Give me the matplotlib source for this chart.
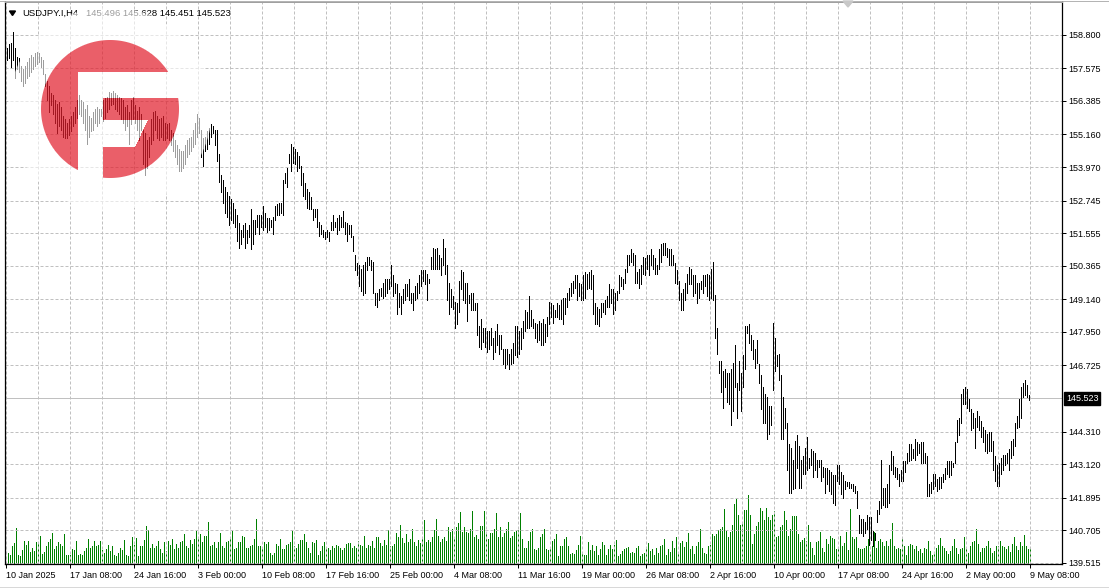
import numpy as np
import matplotlib
matplotlib.use('Agg')
import matplotlib.pyplot as plt
from matplotlib.patches import Polygon
from matplotlib.lines import Line2D
from matplotlib.transforms import blended_transform_factory

plt.rcParams['font.family'] = ['Liberation Sans', 'DejaVu Sans']

W, H, DPI = 1109, 588, 100

# ---- data ----
symbol = 'USDJPY.I,H4'
last_ohlc = '145.496 145.628 145.451 145.523'
last_price = 145.523

price_ticks = [158.800, 157.575, 156.385, 155.160, 153.970, 152.745, 151.555, 150.365,
               149.140, 147.950, 146.725, 144.310, 143.120, 141.895, 140.705, 139.515]

date_labels = ['10 Jan 2025', '17 Jan 08:00', '24 Jan 16:00', '3 Feb 00:00', '10 Feb 08:00',
               '17 Feb 16:00', '25 Feb 00:00', '4 Mar 08:00', '11 Mar 16:00', '19 Mar 00:00',
               '26 Mar 08:00', '2 Apr 16:00', '10 Apr 00:00', '17 Apr 08:00', '24 Apr 16:00',
               '2 May 00:00', '9 May 08:00']

# H4 bar highs, 10 Jan -> 9 May 2025
highs = [
    158.32, 158.45, 158.51, 158.89, 158.32, 158.00, 157.94, 157.68, 157.56, 157.68, 157.81, 157.94, 158.06, 158.00, 158.13, 158.19,
    158.13, 158.00, 157.87, 157.37, 157.11, 156.92, 156.67, 156.61, 156.42, 156.29, 156.35, 156.16, 155.84, 155.72, 155.59, 155.72,
    155.84, 155.97, 156.16, 156.42, 156.61, 156.42, 156.35, 156.10, 156.22, 155.84, 155.78, 155.97, 156.10, 156.16, 156.10, 156.10,
    156.42, 156.48, 156.54, 156.73, 156.67, 156.76, 156.67, 156.61, 156.54, 156.48, 156.42, 156.16, 156.22, 155.97, 156.42, 156.54,
    156.22, 156.03, 156.16, 155.91, 155.34, 155.21, 154.95, 155.08, 155.72, 155.97, 156.03, 155.84, 155.72, 155.78, 155.84, 155.59,
    155.53, 155.59, 155.34, 155.21, 154.95, 154.76, 154.64, 154.57, 154.57, 154.76, 154.95, 155.02, 155.08, 155.34, 155.59, 155.91,
    155.78, 155.34, 155.02, 155.08, 155.27, 155.40, 155.53, 155.46, 155.34, 155.34, 154.45, 153.69, 153.50, 153.24, 153.05, 152.92,
    152.80, 152.67, 152.42, 152.23, 151.91, 151.66, 151.85, 151.91, 151.66, 151.85, 152.42, 152.04, 152.04, 152.23, 152.23, 152.23,
    152.54, 152.29, 152.10, 152.10, 152.04, 152.16, 152.54, 152.61, 152.67, 152.67, 153.50, 153.75, 153.94, 154.45, 154.83, 154.70,
    154.64, 154.51, 154.38, 154.00, 153.75, 153.37, 153.18, 153.05, 152.86, 152.42, 152.42, 152.42, 151.97, 151.85, 151.66, 151.59,
    151.66, 151.59, 151.97, 152.23, 151.97, 152.10, 152.23, 152.16, 152.35, 151.97, 151.91, 151.85, 151.85, 151.47, 150.77, 150.45,
    150.39, 150.26, 150.39, 150.51, 150.70, 150.70, 150.58, 150.51, 149.37, 149.37, 149.50, 149.56, 149.75, 149.88, 149.88, 149.88,
    150.39, 150.01, 149.75, 149.69, 149.37, 149.25, 149.50, 149.69, 149.69, 149.88, 149.37, 149.37, 149.63, 149.75, 150.01, 150.20,
    150.20, 150.20, 150.07, 149.88, 150.70, 151.02, 150.96, 151.02, 150.77, 150.64, 151.34, 151.02, 150.39, 149.75, 149.50, 149.25,
    149.05, 148.99, 149.82, 150.20, 150.13, 149.75, 149.75, 149.31, 149.37, 149.37, 148.99, 148.99, 148.17, 148.42, 148.10, 148.10,
    147.98, 147.98, 148.10, 147.72, 147.98, 148.23, 147.85, 147.85, 147.34, 147.34, 147.34, 147.15, 147.34, 147.53, 148.17, 148.17,
    147.98, 148.10, 148.36, 148.74, 148.67, 149.25, 148.74, 148.42, 148.29, 148.23, 148.36, 148.29, 148.42, 148.23, 148.48, 149.05,
    148.99, 148.93, 148.74, 148.99, 148.93, 149.12, 149.18, 149.18, 149.37, 149.56, 149.75, 149.82, 150.01, 150.01, 149.75, 149.69,
    150.01, 150.13, 150.07, 150.13, 150.20, 150.01, 148.99, 148.86, 148.80, 148.99, 148.99, 149.12, 149.25, 149.69, 149.50, 149.50,
    149.37, 149.44, 150.01, 149.94, 149.88, 150.26, 150.77, 150.77, 150.96, 150.83, 150.77, 150.13, 150.26, 150.39, 150.70, 150.64,
    150.77, 150.77, 150.96, 150.77, 150.64, 150.39, 150.96, 151.15, 151.21, 151.21, 151.02, 150.96, 150.96, 150.77, 150.45, 150.20,
    149.82, 149.37, 149.50, 149.75, 150.07, 150.32, 150.26, 150.01, 150.01, 149.75, 149.75, 149.82, 150.01, 150.01, 150.07, 150.01,
    150.26, 150.51, 149.31, 148.10, 146.90, 146.90, 146.52, 146.58, 146.45, 146.45, 146.58, 146.83, 147.47, 146.07, 146.90, 146.45,
    147.09, 148.17, 148.17, 148.23, 147.85, 147.66, 147.34, 147.66, 146.77, 146.39, 145.95, 145.69, 145.56, 145.25, 145.25, 148.29,
    147.72, 147.09, 147.15, 146.39, 145.56, 145.18, 144.61, 143.85, 143.72, 143.28, 143.98, 144.17, 143.79, 143.28, 143.41, 143.72,
    144.10, 143.34, 143.66, 143.60, 143.53, 143.28, 143.28, 143.28, 143.03, 142.96, 142.96, 142.90, 142.84, 142.71, 142.71, 143.09,
    143.09, 142.84, 142.71, 142.52, 142.46, 142.46, 142.39, 142.39, 142.33, 142.14, 141.25, 141.12, 141.12, 141.00, 141.25, 141.19,
    141.19, 140.68, 140.62, 141.44, 141.76, 143.28, 142.26, 142.26, 142.39, 143.09, 143.60, 143.41, 143.03, 142.96, 142.77, 142.90,
    143.22, 143.22, 143.53, 143.85, 143.85, 143.66, 144.04, 143.91, 143.85, 143.91, 143.91, 143.53, 143.41, 142.39, 142.46, 142.77,
    142.77, 142.58, 142.65, 142.65, 142.77, 142.96, 143.22, 143.22, 143.22, 143.15, 143.91, 144.74, 144.80, 145.69, 145.88, 145.95,
    145.88, 145.50, 145.12, 144.99, 144.80, 145.06, 144.87, 144.68, 144.48, 144.36, 144.23, 144.29, 144.29, 143.98, 143.41, 143.09,
    143.15, 143.34, 143.47, 143.47, 143.53, 143.66, 143.98, 144.04, 144.61, 144.87, 145.50, 145.95, 146.07, 146.20, 146.01, 145.63,
]

lows = [
    157.87, 157.94, 157.62, 157.87, 157.24, 157.56, 157.43, 157.11, 156.92, 157.05, 157.24, 157.30, 157.43, 157.56, 157.68, 157.75,
    157.81, 157.62, 157.37, 156.92, 156.42, 155.97, 156.22, 155.91, 155.59, 155.21, 155.46, 155.34, 155.08, 155.02, 155.02, 155.15,
    155.27, 155.46, 155.59, 155.78, 155.91, 155.84, 155.59, 155.34, 154.83, 155.08, 155.27, 155.34, 155.59, 155.46, 155.59, 155.84,
    155.65, 155.78, 155.97, 156.10, 156.22, 156.29, 156.10, 156.03, 155.91, 155.72, 155.59, 155.34, 155.46, 154.83, 155.53, 155.72,
    155.59, 155.34, 154.95, 155.34, 154.07, 153.69, 153.94, 154.32, 154.83, 154.95, 155.34, 155.02, 154.95, 155.08, 154.95, 154.95,
    155.02, 154.95, 154.76, 154.57, 154.32, 154.07, 153.81, 153.81, 153.94, 154.07, 154.32, 154.45, 154.57, 154.70, 154.83, 155.08,
    155.21, 154.32, 154.00, 154.57, 154.64, 154.83, 155.08, 155.21, 154.76, 154.19, 153.43, 153.05, 152.67, 152.29, 152.16, 151.85,
    152.04, 151.91, 151.78, 151.28, 151.02, 151.15, 151.40, 151.02, 151.21, 151.40, 150.96, 151.15, 151.53, 151.78, 151.53, 151.78,
    151.66, 151.78, 151.59, 151.66, 151.78, 151.53, 152.04, 152.23, 152.23, 152.29, 152.23, 153.37, 153.24, 154.13, 153.81, 154.13,
    154.07, 153.81, 153.94, 153.30, 152.92, 152.80, 152.48, 152.42, 152.42, 152.04, 152.16, 151.78, 151.47, 151.53, 151.40, 151.34,
    151.40, 151.28, 151.66, 151.66, 151.78, 151.53, 151.66, 151.78, 151.78, 151.53, 151.28, 151.53, 151.40, 150.89, 150.20, 150.01,
    149.63, 149.44, 149.31, 149.37, 150.20, 150.39, 150.20, 149.37, 148.93, 148.86, 149.12, 149.25, 149.18, 149.25, 149.37, 149.50,
    149.63, 149.25, 149.37, 148.61, 148.86, 148.61, 148.99, 149.12, 149.25, 149.12, 148.99, 148.74, 149.12, 149.18, 149.37, 149.63,
    149.82, 149.69, 149.12, 149.75, 150.26, 150.26, 150.26, 150.26, 150.26, 150.01, 150.39, 150.07, 149.12, 148.61, 148.86, 148.80,
    148.10, 148.23, 148.67, 149.50, 149.12, 148.99, 148.36, 148.99, 148.74, 148.74, 148.74, 147.85, 147.40, 147.34, 147.59, 147.40,
    147.21, 147.34, 147.47, 146.96, 147.21, 147.47, 147.15, 147.34, 146.77, 146.64, 146.77, 146.58, 146.77, 146.83, 147.09, 147.03,
    147.15, 147.34, 147.72, 147.98, 148.10, 148.10, 148.17, 148.10, 147.72, 147.59, 147.66, 147.47, 147.47, 147.59, 147.79, 148.23,
    148.48, 148.29, 148.48, 148.48, 148.42, 148.42, 148.23, 148.61, 148.86, 149.12, 149.25, 149.37, 149.56, 149.12, 149.25, 149.12,
    149.12, 149.18, 149.50, 149.56, 149.50, 148.61, 148.23, 148.23, 148.17, 148.48, 148.67, 148.61, 148.86, 148.86, 148.99, 148.61,
    148.74, 149.12, 149.37, 149.63, 149.50, 149.75, 150.13, 150.39, 150.51, 150.39, 149.75, 149.75, 149.56, 149.69, 150.07, 150.01,
    150.26, 150.01, 150.39, 150.26, 150.07, 150.07, 150.26, 150.51, 150.77, 150.77, 150.70, 150.39, 150.39, 150.39, 149.75, 149.69,
    149.12, 148.74, 148.74, 149.12, 149.37, 149.69, 149.69, 149.25, 149.37, 148.99, 149.18, 149.50, 149.37, 149.63, 149.25, 149.12,
    149.18, 149.12, 147.72, 147.15, 146.45, 145.76, 145.18, 145.95, 145.37, 145.31, 144.55, 145.06, 145.95, 144.80, 145.82, 145.06,
    145.95, 146.58, 147.91, 147.53, 147.28, 146.96, 146.64, 146.83, 146.07, 145.12, 144.61, 144.61, 144.04, 144.23, 144.55, 145.82,
    146.52, 146.71, 146.20, 144.04, 144.04, 144.42, 142.90, 142.07, 142.07, 142.20, 142.26, 142.96, 142.26, 142.26, 142.77, 142.77,
    142.90, 142.96, 143.09, 142.65, 142.90, 142.65, 143.03, 142.52, 142.65, 142.07, 142.39, 142.14, 142.01, 141.69, 141.63, 142.52,
    142.39, 142.01, 141.89, 142.20, 142.33, 142.26, 142.26, 142.14, 142.07, 141.50, 140.62, 140.62, 140.49, 140.62, 140.74, 140.17,
    140.36, 140.11, 140.36, 141.00, 141.31, 141.50, 141.63, 141.57, 141.57, 141.69, 142.90, 142.77, 142.65, 142.58, 142.33, 142.52,
    142.52, 142.84, 143.15, 143.22, 143.28, 143.34, 143.28, 143.47, 143.53, 143.15, 143.15, 143.15, 141.95, 141.95, 142.07, 142.20,
    142.33, 142.14, 142.20, 142.26, 142.46, 142.58, 142.77, 142.65, 142.71, 143.03, 143.15, 143.91, 144.17, 144.61, 145.31, 145.31,
    145.18, 145.06, 144.36, 144.42, 143.72, 144.48, 144.36, 144.10, 143.91, 143.60, 143.53, 143.60, 143.60, 142.90, 142.52, 142.33,
    142.33, 142.77, 142.90, 143.09, 143.15, 142.90, 143.34, 143.47, 143.79, 144.42, 144.48, 144.80, 145.56, 145.63, 145.56, 145.45,
]

# tick volumes
volumes = [
    3200, 2700, 5200, 6000, 10500, 2700, 2200, 4000, 6500, 5500, 6500, 3400, 4700, 3700, 6200, 6000,
    8200, 3000, 3400, 5200, 6400, 7200, 9000, 4400, 5200, 6200, 5700, 5200, 8500, 2700, 2700, 2700,
    4200, 4000, 6700, 2700, 3000, 2700, 3700, 4700, 7200, 4700, 5200, 6500, 5200, 5500, 6500, 4000,
    3200, 4200, 5500, 3700, 5200, 2700, 2400, 3200, 4700, 3900, 7000, 2700, 2200, 5200, 7800, 5500,
    7500, 2400, 5200, 5200, 7000, 11000, 9700, 4700, 5700, 4700, 5200, 6700, 4200, 3200, 6200, 3700,
    6700, 5500, 7200, 4200, 5700, 4700, 6200, 6700, 8500, 5200, 4700, 7000, 5700, 7200, 9500, 7200,
    8700, 6400, 8000, 8200, 12200, 5200, 5400, 6400, 4700, 6400, 8900, 5200, 4700, 6200, 6700, 7700,
    9700, 4200, 4700, 6200, 6400, 8200, 7700, 4700, 4700, 5200, 5400, 7200, 13000, 5200, 5200, 4700,
    6200, 5700, 6200, 3200, 2700, 3200, 5700, 5200, 7200, 4200, 4200, 5400, 5700, 6400, 9700, 5200,
    4700, 5700, 7000, 7000, 8700, 6200, 4700, 3200, 6200, 6000, 6900, 2700, 3700, 5200, 6400, 4400,
    4700, 4000, 5200, 4700, 5400, 5200, 4500, 4000, 4700, 5700, 6000, 6000, 4700, 5200, 4700, 6500,
    5500, 5200, 8200, 4700, 5500, 5200, 6500, 4700, 7900, 7700, 6000, 5200, 7000, 5500, 9700, 5200,
    5200, 5700, 9000, 7700, 11200, 7400, 6000, 8500, 6200, 7200, 10000, 6400, 5200, 7000, 6000, 7400,
    12700, 6200, 7000, 6400, 7700, 9700, 13000, 8200, 6200, 7200, 7700, 6700, 10700, 9200, 10200, 7700,
    10700, 11900, 15000, 9200, 10700, 9200, 9000, 10200, 15200, 7700, 8400, 7200, 10900, 10900, 15200, 8700,
    7200, 9000, 9000, 10000, 14700, 7700, 10700, 7700, 9000, 10200, 12200, 7400, 8200, 9200, 9400, 9700,
    14700, 7200, 4700, 4500, 6500, 9200, 10000, 4200, 3900, 4700, 7700, 8500, 10200, 4400, 4000, 4200,
    6500, 7200, 8500, 2400, 5200, 5200, 7200, 7700, 5200, 3000, 3200, 3000, 4000, 5500, 8000, 3000,
    2700, 2700, 6200, 4000, 5500, 3700, 5200, 2500, 4200, 6200, 5500, 2700, 4200, 5500, 4400, 5500,
    7000, 2200, 3000, 3700, 4400, 4700, 5000, 3200, 3500, 3200, 4700, 5200, 2400, 3000, 3200, 4500,
    6000, 3700, 4200, 2700, 4700, 3200, 5200, 5500, 7200, 2700, 4200, 3500, 6500, 4700, 7700, 3200,
    6000, 6700, 5000, 6200, 9000, 4200, 5200, 3000, 5200, 6200, 10000, 4700, 3200, 3000, 5200, 5500,
    8700, 8200, 8700, 9700, 10000, 10700, 15700, 9400, 7700, 9200, 11200, 17400, 18700, 14000, 11200, 11700,
    15500, 15500, 20000, 14000, 5700, 8500, 10900, 12200, 16000, 15200, 12700, 16000, 13500, 12700, 14200, 15200,
    7700, 8200, 10700, 11200, 15200, 12700, 8200, 10000, 13700, 13700, 13700, 8700, 6200, 7000, 7400, 6700,
    11200, 6200, 4700, 2700, 6200, 6700, 9200, 4700, 3500, 7200, 5700, 8200, 7400, 7200, 4200, 4700,
    8200, 5200, 6000, 9200, 4000, 15700, 7700, 7200, 7700, 4700, 4200, 4200, 4700, 5200, 7200, 3200,
    5200, 9200, 4700, 6700, 7200, 6200, 5200, 6700, 5200, 7200, 11700, 5200, 4200, 4700, 4200, 7200,
    5200, 2700, 5200, 5700, 5500, 4200, 5200, 3700, 4200, 3200, 4700, 4200, 6700, 3700, 2700, 3400,
    4700, 5500, 7400, 5200, 4700, 3700, 3000, 3700, 5200, 7200, 4700, 3000, 4200, 4700, 7700, 4700,
    3200, 5200, 6200, 6700, 10200, 5700, 3400, 4700, 4700, 5200, 6500, 4700, 3200, 3700, 5200, 5200,
    6700, 5200, 5000, 4200, 5200, 3400, 5700, 7700, 5200, 4000, 6200, 5200, 8400, 5200, 4200, 4900,
]

n = min(len(highs), len(lows), len(volumes))
bars = np.arange(n)
hi = np.array(highs[:n])
lo = np.array(lows[:n])
vol = np.array(volumes[:n])


def px_rect(x0, y0, x1, y1):
    # pixel box (y measured from the top) -> figure fraction rect
    return [x0 / W, 1 - y1 / H, (x1 - x0) / W, (y1 - y0) / H]


fig = plt.figure(figsize=(W / DPI, H / DPI), dpi=DPI, facecolor='white')
pos = px_rect(5, 2, 1062, 564)

xmin, xmax = -1.25, 527.25
ymin, ymax = 139.47, 160.0

# volume panel sits behind the price bars
vax = fig.add_axes(pos, zorder=1)
vax.axis('off')
vax.vlines(bars, 0, vol, colors='#008000', linewidth=0.72, antialiased=False)
vax.set_xlim(xmin, xmax)
vax.set_ylim(0, 562 * 288)

ax = fig.add_axes(pos, zorder=2)
ax.patch.set_visible(False)
ax.set_xlim(xmin, xmax)
ax.set_ylim(ymin, ymax)

ax.vlines(bars, lo, hi, colors='black', linewidth=0.72, antialiased=False, zorder=3)
ax.axhline(last_price, color='#c0c0c0', linewidth=0.72, zorder=2)

# axes / ticks
xt = -0.5 + 32 * np.arange(len(date_labels))
ax.set_xticks(xt)
ax.set_xticklabels(date_labels)
ax.set_xticks(-0.5 + 16 + 32 * np.arange(len(date_labels)), minor=True)
for t in ax.get_xticklabels():
    t.set_ha('left')

ax.yaxis.tick_right()
ax.set_yticks(price_ticks)
ax.set_yticklabels([f'{v:.3f}' for v in price_ticks])

ax.tick_params(axis='x', which='major', direction='out', length=3, width=0.72,
               pad=2, labelsize=6.5, colors='black')
ax.tick_params(axis='x', which='minor', length=0)
ax.tick_params(axis='y', which='major', direction='out', length=3, width=0.72,
               pad=1.5, labelsize=6.5, colors='black')

ax.grid(True, axis='x', which='both', color='#c0c0c0', linestyle=(0, (3, 2)), linewidth=0.72)
ax.grid(True, axis='y', which='major', color='#c0c0c0', linestyle=(0, (3, 2)), linewidth=0.72)
ax.set_axisbelow(True)

for side in ['left', 'right', 'bottom']:
    ax.spines[side].set_color('black')
    ax.spines[side].set_linewidth(0.9)
ax.spines['top'].set_color('#a0a0a0')
ax.spines['top'].set_linewidth(0.72)

# last price tag on the price scale
tr = blended_transform_factory(ax.transAxes, ax.transData)
ax.text(1 + 4 / 1057, last_price, f'{last_price:.3f}', transform=tr, ha='left', va='center',
        color='white', fontsize=6.5, clip_on=False,
        bbox=dict(boxstyle='square,pad=0.2', fc='black', ec='black'))

# header
fig.add_artist(Polygon([[9.5 / W, 1 - 11 / H], [15.5 / W, 1 - 11 / H], [12.5 / W, 1 - 15.5 / H]],
                       closed=True, transform=fig.transFigure, color='black', zorder=3))
fig.text(22 / W, 1 - 13.5 / H, symbol, fontsize=6.8, ha='left', va='center', color='black')
fig.text(86 / W, 1 - 13.5 / H, last_ohlc, fontsize=6.8, ha='left', va='center', color='black')

# chart shift marker and window edges
fig.add_artist(Polygon([[843 / W, 1 - 1 / H], [853 / W, 1 - 1 / H], [848 / W, 1 - 7 / H]],
                       closed=True, transform=fig.transFigure, color='#c8c8c8', zorder=3))
fig.add_artist(Line2D([0, 1], [1 - 0.5 / H] * 2, transform=fig.transFigure, color='#b4b4b4', lw=0.72))
fig.add_artist(Line2D([0, 1], [1 - 586.5 / H] * 2, transform=fig.transFigure, color='#d8d8d8', lw=0.72))

# watermark logo: red G disc with a soft white halo
lw_, lh_ = 232, 232
yy, xx = np.mgrid[0:lh_, 0:lw_] + 0.5
cx, cy, r_logo, r_halo = 110, 109, 69, 102
d = np.hypot(xx - cx, yy - cy)
disc = np.clip(r_logo - d + 0.5, 0, 1)
cut = (((xx >= 78) & (xx < 103) & (yy >= 72))
       | ((xx >= 103) & (yy >= 72) & (yy < 98))
       | ((xx >= 103) & (yy >= 120) & (yy < 147) & (xx < 148 - (yy - 120) * 13 / 27)))
red = disc * (~cut)
halo = np.clip(r_halo - d + 0.5, 0, 1) * (1 - red)
a_r = 0.72 * red
a_h = 0.62 * halo
alpha = a_r + a_h * (1 - a_r)
red_rgb = np.array([226, 32, 46]) / 255.0
img = np.zeros((lh_, lw_, 4))
safe = np.where(alpha > 0, alpha, 1)
for k in range(3):
    img[..., k] = (red_rgb[k] * a_r + 1.0 * a_h * (1 - a_r)) / safe
img[..., 3] = alpha
fig.figimage(img, xo=0, yo=H - lh_, origin='upper', zorder=5)

fig.savefig('out.png', dpi=DPI, facecolor='white')
